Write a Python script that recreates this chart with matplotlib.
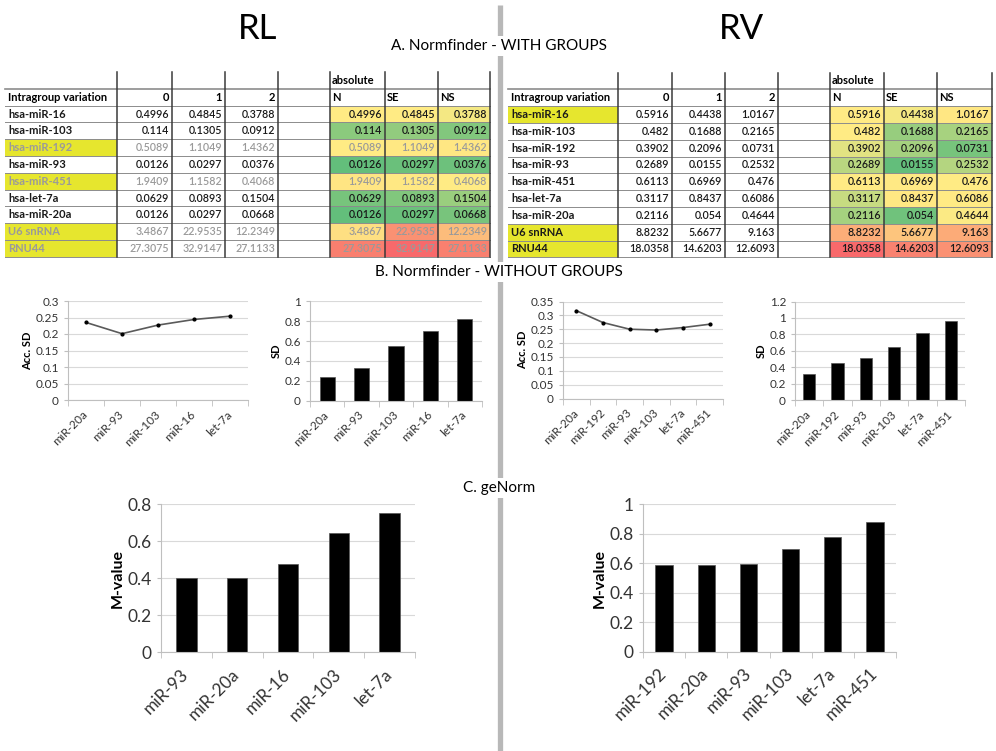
import numpy as np
import matplotlib.pyplot as plt
from matplotlib.patches import Rectangle
from matplotlib.colors import to_rgb
from matplotlib.ticker import FuncFormatter

plt.rcParams['font.family'] = ['Lato', 'DejaVu Sans']

# ---- A. Normfinder with groups (tables) ----
genes = ['hsa-miR-16', 'hsa-miR-103', 'hsa-miR-192', 'hsa-miR-93', 'hsa-miR-451',
         'hsa-let-7a', 'hsa-miR-20a', 'U6 snRNA', 'RNU44']
rl_n = [0.4996, 0.114, 0.5089, 0.0126, 1.9409, 0.0629, 0.0126, 3.4867, 27.3075]
rl_se = [0.4845, 0.1305, 1.1049, 0.0297, 1.1582, 0.0893, 0.0297, 22.9535, 32.9147]
rl_ns = [0.3788, 0.0912, 1.4362, 0.0376, 0.4068, 0.1504, 0.0668, 12.2349, 27.1133]
rv_n = [0.5916, 0.482, 0.3902, 0.2689, 0.6113, 0.3117, 0.2116, 8.8232, 18.0358]
rv_se = [0.4438, 0.1688, 0.2096, 0.0155, 0.6969, 0.8437, 0.054, 5.6677, 14.6203]
rv_ns = [1.0167, 0.2165, 0.0731, 0.2532, 0.476, 0.6086, 0.4644, 9.163, 12.6093]
rl_excluded = ['hsa-miR-192', 'hsa-miR-451', 'U6 snRNA', 'RNU44']
rv_marked = ['hsa-miR-16', 'U6 snRNA', 'RNU44']

# ---- B. Normfinder without groups ----
rl_b_genes = ['miR-20a', 'miR-93', 'miR-103', 'miR-16', 'let-7a']
rl_acc_sd = [0.235, 0.201, 0.227, 0.244, 0.254]
rl_sd = [0.24, 0.33, 0.55, 0.70, 0.82]
rv_b_genes = ['miR-20a', 'miR-192', 'miR-93', 'miR-103', 'let-7a', 'miR-451']
rv_acc_sd = [0.317, 0.274, 0.250, 0.247, 0.256, 0.268]
rv_sd = [0.317, 0.447, 0.509, 0.651, 0.814, 0.964]

# ---- C. geNorm ----
rl_c_genes = ['miR-93', 'miR-20a', 'miR-16', 'miR-103', 'let-7a']
rl_m = [0.403, 0.403, 0.476, 0.647, 0.755]
rv_c_genes = ['miR-192', 'miR-20a', 'miR-93', 'miR-103', 'let-7a', 'miR-451']
rv_m = [0.588, 0.588, 0.595, 0.697, 0.780, 0.878]

W, H = 996, 751
fig = plt.figure(figsize=(W / 100, H / 100), dpi=100)
canvas = fig.add_axes([0, 0, 1, 1])
canvas.set_xlim(0, W)
canvas.set_ylim(H, 0)
canvas.axis('off')

GREEN = np.array(to_rgb('#63BE7B'))
YELLOW = np.array(to_rgb('#FFEB84'))
RED = np.array(to_rgb('#F8696B'))
HILITE = '#e6e62e'


def scale_colors(vals):
    # excel style 3-colour scale: min green, median yellow, max red
    v = np.asarray(vals, dtype=float)
    lo, mid, hi = v.min(), np.percentile(v, 50), v.max()
    out = []
    for x in v:
        if x <= mid:
            t = (x - lo) / (mid - lo)
            out.append(GREEN + (YELLOW - GREEN) * t)
        else:
            t = (x - mid) / (hi - mid)
            out.append(YELLOW + (RED - YELLOW) * t)
    return out


def draw_table(xe, top, rh, cols, grey_rows, mark_rows):
    ncols = len(cols)
    nrow = len(genes)
    colors = scale_colors(sum(cols, []))
    fs = 8
    # header rows
    canvas.text(xe[5] + 2, top + rh / 2, 'absolute', fontsize=fs, fontweight='bold', va='center')
    hy = top + 1.5 * rh
    canvas.text(xe[0] + 3, hy, 'Intragroup variation', fontsize=fs, fontweight='bold', va='center')
    for j, h in enumerate(['0', '1', '2']):
        canvas.text(xe[j + 2] - 3, hy, h, fontsize=fs, fontweight='bold', va='center', ha='right')
    for j, h in enumerate(['N', 'SE', 'NS']):
        canvas.text(xe[j + 5] + 2, hy, h, fontsize=fs, fontweight='bold', va='center')
    for i, g in enumerate(genes):
        y = top + (i + 2) * rh
        tc = '#9a9a9a' if g in grey_rows else '#1a1a1a'
        if g in mark_rows:
            canvas.add_patch(Rectangle((xe[0], y), xe[1] - xe[0], rh, fc=HILITE, ec='none'))
        canvas.text(xe[0] + 3, y + rh / 2, g, fontsize=fs, fontweight='bold', va='center', color=tc)
        for j in range(ncols):
            s = str(cols[j][i])
            canvas.text(xe[j + 2] - 3, y + rh / 2, s, fontsize=fs - 0.3, fontweight='semibold',
                        va='center', ha='right', color=tc)
            canvas.add_patch(Rectangle((xe[j + 5], y), xe[j + 6] - xe[j + 5], rh,
                                       fc=colors[j * nrow + i], ec='none'))
            canvas.text(xe[j + 6] - 3, y + rh / 2, s, fontsize=fs - 0.3, fontweight='semibold',
                        va='center', ha='right', color=tc)
    bottom = top + (nrow + 2) * rh
    for k in range(1, nrow + 3):
        canvas.plot([xe[0], xe[-1]], [top + k * rh] * 2, color='#8c8c8c',
                    lw=1.2 if k == 1 else 0.7)
    for x in xe[1:]:
        canvas.plot([x, x], [top, bottom], color='#3a3a3a', lw=1.1)


draw_table([5, 117, 172, 225, 278, 330, 385, 438, 490], 72, 16.8, [rl_n, rl_se, rl_ns],
           rl_excluded, rl_excluded)
draw_table([508, 618, 672, 725, 778, 830, 884, 937, 992], 72.5, 16.8, [rv_n, rv_se, rv_ns],
           [], rv_marked)

# divider and headings
canvas.plot([499.5, 499.5], [5, H], color='#b8b8b8', lw=3.8, solid_capstyle='butt', zorder=1)
canvas.text(258, 29, 'RL', fontsize=25, ha='center', va='center')
canvas.text(741, 29, 'RV', fontsize=25, ha='center', va='center')
box = dict(fc='white', ec='none', pad=2)
canvas.text(499, 46, 'A. Normfinder - WITH GROUPS', fontsize=11, ha='center', va='center', bbox=box)
canvas.text(499, 272, 'B. Normfinder - WITHOUT GROUPS', fontsize=11, ha='center', va='center', bbox=box)
canvas.text(499, 488, 'C. geNorm', fontsize=11, ha='center', va='center', bbox=box)


def px_axes(x0, y0, x1, y1):
    return fig.add_axes([x0 / W, 1 - y1 / H, (x1 - x0) / W, (y1 - y0) / H])


def excel_style(ax, cats, ymax, ystep, fs, ylabel, lfs, pad):
    n = len(cats)
    ax.set_xlim(-0.5, n - 0.5)
    ax.set_ylim(0, ymax)
    ax.set_yticks(np.arange(0, ymax + ystep / 2, ystep))
    ax.yaxis.set_major_formatter(FuncFormatter(lambda v, p: '%g' % round(v, 3)))
    ax.set_xticks(range(n))
    ax.set_xticks(np.arange(-0.5, n), minor=True)
    ax.set_xticklabels(cats, rotation=45, ha='right', va='center', rotation_mode='anchor',
                       fontsize=fs, color='#333333')
    ax.tick_params(axis='x', which='major', length=0, pad=pad)
    ax.tick_params(axis='x', which='minor', length=4, color='#bfbfbf')
    ax.tick_params(axis='y', length=3, color='#bfbfbf', labelsize=fs, labelcolor='#333333')
    ax.yaxis.grid(True, color='#d9d9d9', lw=0.8)
    ax.set_axisbelow(True)
    for s in ['top', 'right']:
        ax.spines[s].set_visible(False)
    for s in ['left', 'bottom']:
        ax.spines[s].set_color('#bfbfbf')
    ax.set_ylabel(ylabel, fontsize=lfs, fontweight='bold', labelpad=2)


# B charts
ax = px_axes(68, 301, 248, 400)
ax.plot(range(len(rl_b_genes)), rl_acc_sd, color='#5a5a5a', lw=1.2, marker='o', ms=2, mfc='k', mec='k')
excel_style(ax, rl_b_genes, 0.3, 0.05, 8.5, 'Acc. SD', 8, 9)

ax = px_axes(310, 301.5, 482, 400.5)
ax.bar(range(len(rl_b_genes)), rl_sd, width=0.44, color='black', edgecolor='#555555', lw=0.5)
excel_style(ax, rl_b_genes, 1.0, 0.2, 8.5, 'SD', 8, 9)

ax = px_axes(563, 301.5, 723, 398.5)
ax.plot(range(len(rv_b_genes)), rv_acc_sd, color='#5a5a5a', lw=1.2, marker='o', ms=2, mfc='k', mec='k')
excel_style(ax, rv_b_genes, 0.35, 0.05, 8.5, 'Acc. SD', 8, 9)

ax = px_axes(795, 301.5, 965, 400)
ax.bar(range(len(rv_b_genes)), rv_sd, width=0.44, color='black', edgecolor='#555555', lw=0.5)
excel_style(ax, rv_b_genes, 1.2, 0.2, 8.5, 'SD', 8, 9)

# C charts
ax = px_axes(161, 504.3, 415, 652.3)
ax.bar(range(len(rl_c_genes)), rl_m, width=0.4, color='black', edgecolor='#555555', lw=0.5)
excel_style(ax, rl_c_genes, 0.8, 0.2, 12.5, 'M-value', 11.5, 14)

ax = px_axes(643, 504.3, 896, 651.7)
ax.bar(range(len(rv_c_genes)), rv_m, width=0.41, color='black', edgecolor='#555555', lw=0.5)
excel_style(ax, rv_c_genes, 1.0, 0.2, 12.5, 'M-value', 11.5, 14)

fig.savefig('out.png', dpi=100)
